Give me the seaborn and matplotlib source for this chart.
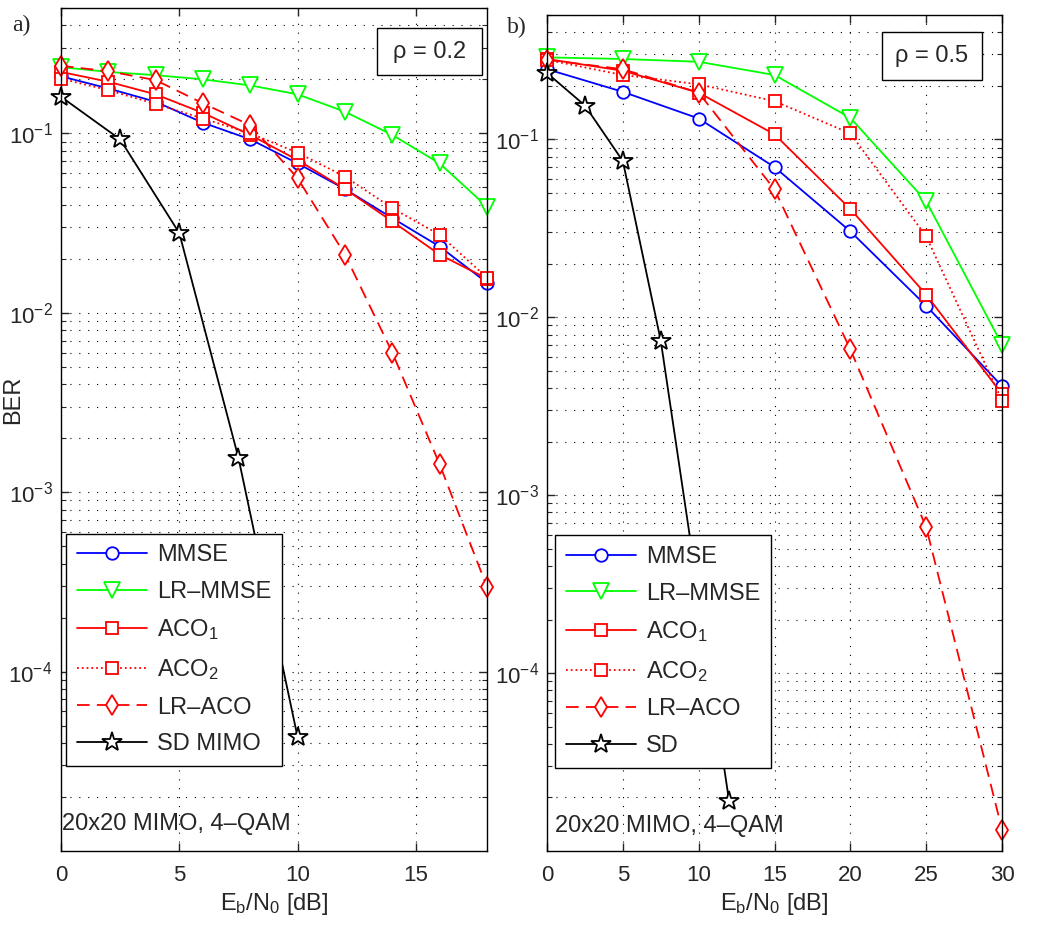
import matplotlib
matplotlib.use("Agg")
import matplotlib.pyplot as plt
from matplotlib.ticker import FixedLocator, LogLocator, NullFormatter
from matplotlib.patches import Rectangle
import seaborn as sns

# panel a) rho = 0.2
snr_a = [0, 2, 4, 6, 8, 10, 12, 14, 16, 18]
mmse_a = [0.208, 0.178, 0.150, 0.1146, 0.0926, 0.068, 0.0489, 0.0337, 0.0234, 0.0147]
lrmmse_a = [0.234, 0.220, 0.211, 0.200, 0.185, 0.165, 0.132, 0.098, 0.068, 0.039]
aco1_a = [0.220, 0.194, 0.165, 0.130, 0.098, 0.071, 0.049, 0.0323, 0.0211, 0.0155]
aco2_a = [0.202, 0.174, 0.146, 0.121, 0.100, 0.078, 0.0574, 0.0383, 0.0272, 0.0157]
lraco_a = [0.238, 0.222, 0.198, 0.147, 0.111, 0.0562, 0.0211, 0.0060, 0.00143, 2.96e-4]
snr_sd_a = [0, 2.5, 5, 7.5, 10]
sd_a = [0.160, 0.0926, 0.0278, 0.00155, 4.3e-5]

# panel b) rho = 0.5
snr_b = [0, 5, 10, 15, 20, 25, 30]
mmse_b = [0.248, 0.185, 0.131, 0.0698, 0.0304, 0.0116, 0.0041]
lrmmse_b = [0.289, 0.283, 0.273, 0.230, 0.132, 0.0449, 0.0070]
aco1_b = [0.283, 0.243, 0.183, 0.1067, 0.0406, 0.0134, 0.0037]
aco2_b = [0.280, 0.230, 0.204, 0.164, 0.108, 0.0285, 0.0034]
lraco_b = [0.280, 0.248, 0.183, 0.0523, 0.0066, 6.6e-4, 1.32e-5]
snr_sd_b = [0, 2.5, 5, 7.5, 12]
sd_b = [0.236, 0.155, 0.0755, 0.00738, 1.92e-5]

labels = ["MMSE", "LR\u2013MMSE", r"ACO$\mathregular{_1}$", r"ACO$\mathregular{_2}$", "LR\u2013ACO"]

sns.set_style("ticks")
plt.rcParams["font.family"] = ["Liberation Sans", "DejaVu Sans"]
plt.rcParams["mathtext.fontset"] = "custom"
plt.rcParams["mathtext.rm"] = "Liberation Sans"
plt.rcParams["mathtext.it"] = "Liberation Sans:italic"
plt.rcParams["mathtext.bf"] = "Liberation Sans:bold"

# color, linestyle, marker, markersize
styles = [
    ("blue", "-", "o", 9),
    ("lime", "-", "v", 11),
    ("red", "-", "s", 8.5),
    ("red", ":", "s", 8.5),
    ("red", (0, (7, 4)), "d", 10),
]

fig = plt.figure(figsize=(10.55, 9.27), dpi=100)
ax_a = fig.add_axes([0.0578, 0.082, 0.4038, 0.9094])
ax_b = fig.add_axes([0.5185, 0.082, 0.4313, 0.9018])


def draw_panel(ax, snr, curves, snr_sd, sd, sd_label, xmax, xticks):
    for vals, lab, (col, ls, mk, ms) in zip(curves, labels, styles):
        sns.lineplot(x=snr, y=vals, ax=ax, color=col, linestyle=ls, marker=mk,
                     markersize=ms, markerfacecolor="white", markeredgecolor=col,
                     markeredgewidth=1.3, linewidth=1.3, label=lab,
                     legend=False, errorbar=None, clip_on=False)
    sns.lineplot(x=snr_sd, y=sd, ax=ax, color="black", linestyle="-", marker="*",
                 markersize=15, markerfacecolor="white", markeredgecolor="black",
                 markeredgewidth=1.3, linewidth=1.3, label=sd_label,
                 legend=False, errorbar=None, clip_on=False)

    ax.set_yscale("log")
    ax.set_ylim(1e-5, 0.5)
    ax.set_xlim(0, xmax)
    ax.set_xticks(xticks)
    ax.yaxis.set_major_locator(FixedLocator([1e-4, 1e-3, 1e-2, 1e-1]))
    ax.yaxis.set_minor_locator(LogLocator(base=10, subs=range(2, 10), numticks=20))
    ax.yaxis.set_minor_formatter(NullFormatter())
    ax.grid(True, which="both", axis="y", color="black", linestyle=(0, (1, 7)), linewidth=0.8)
    ax.grid(True, which="major", axis="x", color="black", linestyle=(0, (1, 7)), linewidth=0.8)
    ax.tick_params(which="both", direction="in", top=True, right=True, labelsize=16)
    ax.tick_params(which="major", length=6, width=1)
    ax.tick_params(which="minor", length=3.5, width=0.8)
    ax.tick_params(axis="x", pad=10)
    ax.tick_params(axis="y", pad=6)
    for sp in ax.spines.values():
        sp.set_linewidth(1.0)
        sp.set_color("black")
        sp.set_zorder(3)
    ax.set_xlabel(r"E$\mathregular{_b}$/N$\mathregular{_0}$ [dB]", fontsize=17, labelpad=4)
    ax.set_ylabel("")


draw_panel(ax_a, snr_a, [mmse_a, lrmmse_a, aco1_a, aco2_a, lraco_a],
           snr_sd_a, sd_a, "SD MIMO", 18, [0, 5, 10, 15])
draw_panel(ax_b, snr_b, [mmse_b, lrmmse_b, aco1_b, aco2_b, lraco_b],
           snr_sd_b, sd_b, "SD", 30, [0, 5, 10, 15, 20, 25, 30])

ax_a.set_ylabel("BER", fontsize=17)
ax_a.yaxis.set_label_coords(-0.087, 0.535)

for ax, anchor in [(ax_a, (0.0117, 0.101)), (ax_b, (0.0176, 0.0996))]:
    leg = ax.legend(loc="lower left", bbox_to_anchor=anchor, borderaxespad=0,
                    fontsize=17, handlelength=3.0, handletextpad=0.4,
                    labelspacing=0.62, borderpad=0.45, fancybox=False,
                    framealpha=1, edgecolor="black")
    leg.get_frame().set_linewidth(1.0)
    leg.set_zorder(10)

# rho boxes
for ax, (x0, y0, x1, y1), txt in [(ax_a, (0.742, 0.9205, 0.988, 0.976), "\u03c1 = 0.2"),
                                   (ax_b, (0.736, 0.922, 0.956, 0.980), "\u03c1 = 0.5")]:
    ax.add_patch(Rectangle((x0, y0), x1 - x0, y1 - y0, transform=ax.transAxes,
                           facecolor="white", edgecolor="black", linewidth=1.0, zorder=11))
    ax.text((x0 + x1) / 2, (y0 + y1) / 2, txt, transform=ax.transAxes,
            ha="center", va="center", fontsize=17, zorder=12)

ax_a.text(0.003, 0.032, "20x20 MIMO, 4\u2013QAM", transform=ax_a.transAxes,
          ha="left", va="center", fontsize=17, zorder=12)
ax_b.text(0.0176, 0.030, "20x20 MIMO, 4\u2013QAM", transform=ax_b.transAxes,
          ha="left", va="center", fontsize=17, zorder=12)

fig.text(12 / 1055, 1 - 25 / 927, "a)", family=["Liberation Serif", "DejaVu Serif"],
         fontsize=17, ha="left", va="center")
fig.text(507 / 1055, 1 - 27 / 927, "b)", family=["Liberation Serif", "DejaVu Serif"],
         fontsize=17, ha="left", va="center")

fig.savefig("out.png", dpi=100)
